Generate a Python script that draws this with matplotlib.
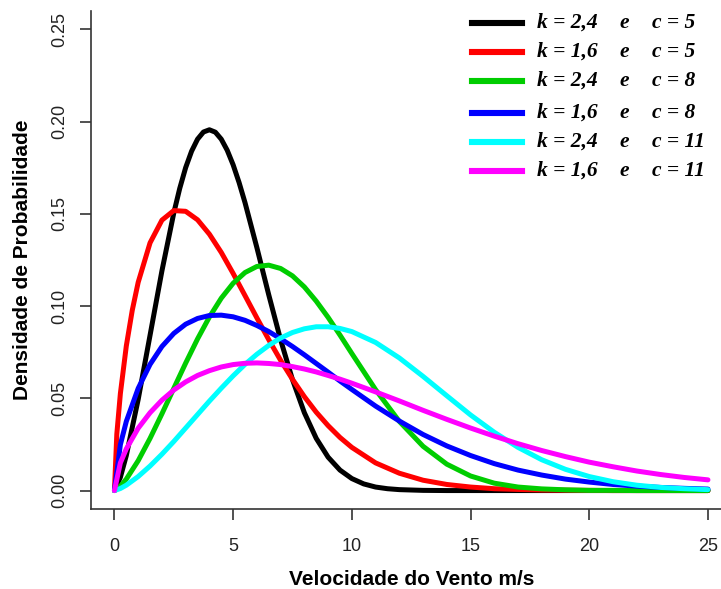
import matplotlib
matplotlib.use("Agg")
import matplotlib.pyplot as plt
from matplotlib.lines import Line2D

# wind speed (m/s) and probability density
speed = [0, 0.25, 0.5, 1, 1.5, 2, 2.5, 3, 3.5, 4, 4.5, 5, 5.5, 6, 6.5, 7, 7.5, 8, 8.5, 9, 9.5, 10,
         11, 12, 13, 14, 15, 16, 17, 18, 19, 20, 21, 22, 23, 24, 25]
# the two narrow curves are read at a few more points
speed_k24_c5 = [0, 0.25, 0.5, 1, 1.5, 2, 2.5, 2.75, 3, 3.25, 3.5, 3.75, 4, 4.25, 4.5, 4.75, 5, 5.25, 5.5,
                6, 6.5, 7, 7.5, 8, 8.5, 9, 9.5, 10, 10.5, 11, 11.5, 12, 13, 14, 15, 16, 17, 18, 19, 20,
                21, 22, 23, 24, 25]
speed_k16_c5 = [0, 0.1, 0.25, 0.5, 0.75, 1, 1.5, 2, 2.5, 3, 3.5, 4, 4.5, 5, 5.5, 6, 6.5, 7, 7.5, 8, 8.5,
                9, 9.5, 10, 11, 12, 13, 14, 15, 16, 17, 18, 19, 20, 21, 22, 23, 24, 25]

dens_k24_c5 = [0, 0.0072, 0.0190, 0.0494, 0.0842, 0.1191, 0.1505, 0.1638, 0.1751, 0.1840, 0.1905, 0.1944,
               0.1956, 0.1943, 0.1905, 0.1845, 0.1766, 0.1670, 0.1561,
               0.1317, 0.1061, 0.0817, 0.0601, 0.0422, 0.0283, 0.0181, 0.0111, 0.0065, 0.0036, 0.0019,
               0.0010, 0.0005, 0.0001, 0, 0, 0, 0, 0, 0, 0, 0, 0, 0, 0, 0]
dens_k16_c5 = [0, 0.0306, 0.0526, 0.0784, 0.0977, 0.1129, 0.1343, 0.1466, 0.1518, 0.1514, 0.1468, 0.1390,
               0.1291, 0.1177, 0.1057, 0.0936, 0.0818, 0.0706, 0.0603, 0.0509, 0.0425, 0.0352, 0.0288,
               0.0234, 0.0150, 0.0094, 0.0056, 0.0033, 0.0019, 0.0010, 0.0006, 0.0003, 0.0002, 0.0001,
               0, 0, 0, 0, 0]
dens_k24_c8 = [0, 0.0023, 0.0062, 0.0162, 0.0283, 0.0416, 0.0554, 0.0691, 0.0822, 0.0941, 0.1043, 0.1124,
               0.1182, 0.1215, 0.1222, 0.1204, 0.1164, 0.1104, 0.1027, 0.0939, 0.0843, 0.0743,
               0.0547, 0.0375, 0.0240, 0.0143, 0.0079, 0.0040, 0.0019, 0.0009, 0.0004, 0.0001, 0.0001, 0, 0, 0, 0]
dens_k16_c8 = [0, 0.0249, 0.0375, 0.0554, 0.0684, 0.0781, 0.0852, 0.0902, 0.0933, 0.0949, 0.0951, 0.0942,
               0.0923, 0.0895, 0.0862, 0.0823, 0.0781, 0.0736, 0.0689, 0.0642, 0.0594, 0.0548,
               0.0458, 0.0377, 0.0304, 0.0242, 0.0190, 0.0146, 0.0111, 0.0084, 0.0062, 0.0046, 0.0033, 0.0024,
               0.0017, 0.0012, 0.0008]
dens_k24_c11 = [0, 0.0011, 0.0029, 0.0076, 0.0133, 0.0197, 0.0266, 0.0339, 0.0412, 0.0485, 0.0555, 0.0622,
                0.0684, 0.0739, 0.0787, 0.0827, 0.0857, 0.0877, 0.0888, 0.0888, 0.0879, 0.0862,
                0.0803, 0.0719, 0.0619, 0.0514, 0.0410, 0.0316, 0.0234, 0.0167, 0.0115, 0.0076, 0.0048, 0.0029,
                0.0017, 0.0010, 0.0005]
dens_k16_c11 = [0, 0.0150, 0.0226, 0.0338, 0.0422, 0.0490, 0.0545, 0.0589, 0.0624, 0.0650, 0.0670, 0.0683,
                0.0690, 0.0692, 0.0689, 0.0683, 0.0672, 0.0659, 0.0643, 0.0624, 0.0604, 0.0582,
                0.0535, 0.0486, 0.0435, 0.0386, 0.0339, 0.0295, 0.0254, 0.0217, 0.0184, 0.0154, 0.0129, 0.0106,
                0.0087, 0.0071, 0.0058]

xs = [speed_k24_c5, speed_k16_c5, speed, speed, speed, speed]
series = [dens_k24_c5, dens_k16_c5, dens_k24_c8, dens_k16_c8, dens_k24_c11, dens_k16_c11]
colors = ["black", "#FF0000", "#00CD00", "#0000FF", "#00FFFF", "#FF00FF"]
legend_k = ["2,4", "1,6", "2,4", "1,6", "2,4", "1,6"]
legend_c = ["5", "5", "8", "8", "11", "11"]

x_ticks = [0, 5, 10, 15, 20, 25]
y_ticks = [0.00, 0.05, 0.10, 0.15, 0.20, 0.25]

W, H = 721, 589
fig = plt.figure(figsize=(W / 100, H / 100), dpi=100)
ax = fig.add_axes([90.7 / W, 80 / H, 641 / W, 498 / H])

for xv, dens, col in zip(xs, series, colors):
    ax.plot(xv, dens, color=col, lw=3.6, solid_capstyle="round", solid_joinstyle="round")

ax.set_xlim(-1, 26)
ax.set_ylim(-0.01, 0.26)
ax.set_xticks(x_ticks)
ax.set_yticks(y_ticks)
ax.set_xticklabels([str(t) for t in x_ticks])
ax.set_yticklabels(["%.2f" % t for t in y_ticks], rotation=90, va="center")

for s in ["top", "right"]:
    ax.spines[s].set_visible(False)
for s in ["left", "bottom"]:
    ax.spines[s].set_color("#333333")
    ax.spines[s].set_linewidth(1.2)
ax.tick_params(axis="both", length=8, width=1.2, color="#333333", labelsize=13,
               labelcolor="#222222")
ax.tick_params(axis="x", pad=13)
ax.tick_params(axis="y", pad=8)
for lab in ax.get_xticklabels() + ax.get_yticklabels():
    lab.set_fontfamily("Liberation Sans")

ax.set_xlabel("Velocidade do Vento m/s", fontfamily="Liberation Sans", fontweight="bold",
              fontsize=15, labelpad=11)
ax.set_ylabel("Densidade de Probabilidade", fontfamily="Liberation Sans", fontweight="bold",
              fontsize=15, labelpad=14)

# legend drawn by hand, no frame, three text columns per row
def px(x, y):
    return x / W, 1 - y / H

row_y = [23, 52, 81, 113, 142, 171]
for i in range(len(series)):
    x0, y0 = px(472, row_y[i])
    x1, _ = px(522, row_y[i])
    fig.add_artist(Line2D([x0, x1], [y0, y0], color=colors[i], lw=4.4, transform=fig.transFigure))
    txt = dict(fontfamily="Liberation Serif", fontweight="bold", fontstyle="italic",
               fontsize=15.5, va="center", ha="left")
    fig.text(*px(537, row_y[i]), "k = " + legend_k[i], **txt)
    fig.text(*px(619, row_y[i]), "e", **txt)
    fig.text(*px(652, row_y[i]), "c = " + legend_c[i], **txt)

fig.savefig("out.png", dpi=100)
